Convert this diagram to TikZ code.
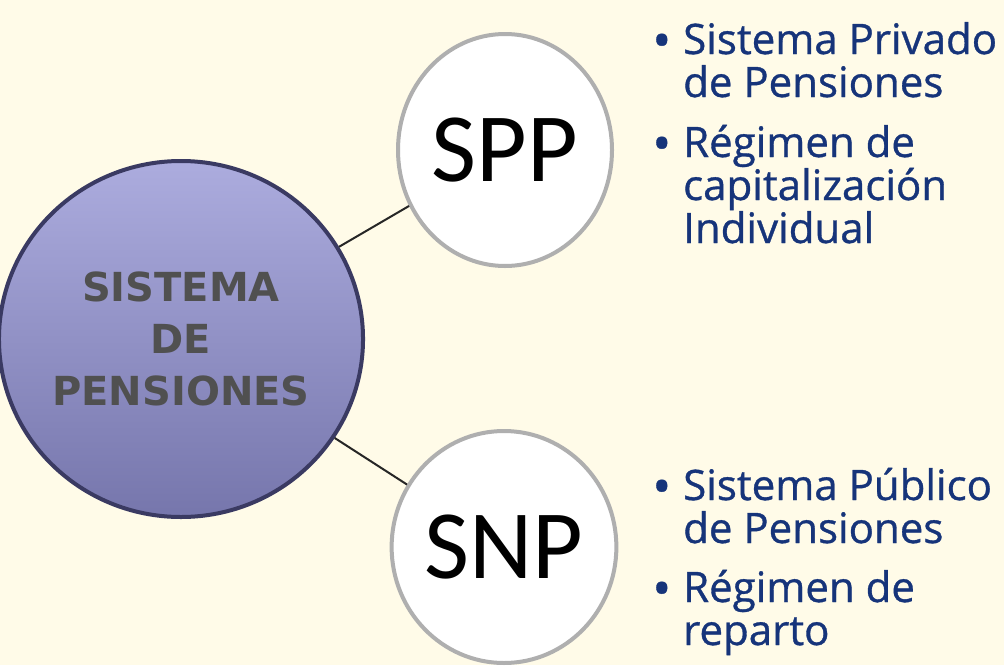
\documentclass[tikz,border=0pt]{standalone}
\usepackage{fontspec}
\setmainfont{Open Sans}
\newfontfamily\itemfont{Open Sans}[FakeBold=0.8]
\newfontfamily\headfont{DejaVu Sans}
\newfontfamily\acrofont{Carlito}
\usetikzlibrary{shapes.geometric}

\definecolor{paper}{RGB}{255,251,232}
\definecolor{balltop}{RGB}{172,172,222}
\definecolor{ballbot}{RGB}{118,118,172}
\definecolor{ballrim}{RGB}{58,58,98}
\definecolor{headgray}{RGB}{80,80,80}
\definecolor{itemblue}{RGB}{22,52,122}
\definecolor{rimgray}{RGB}{175,175,175}

\newcommand{\itemdot}{\llap{\raisebox{-4pt}{\fontsize{50}{43}\selectfont •}\hspace{12pt}}}

\tikzset{
  bigball/.style={ellipse, minimum width=336pt, minimum height=356pt, inner sep=0pt,
    top color=balltop, bottom color=ballbot, draw=ballrim, line width=4pt,
    text=headgray, align=center, font=\headfont\bfseries\fontsize{40}{52}\selectfont},
  smallball/.style={ellipse, minimum width=214pt, minimum height=232pt, inner sep=0pt,
    fill=white, draw=rimgray, line width=4pt, font=\acrofont\fontsize{98}{98}\selectfont},
  itemtext/.style={anchor=base west, align=left, inner sep=0pt, text=itemblue,
    font=\itemfont\fontsize{42}{43}\selectfont},
  link/.style={draw=black!85, line width=2pt},
}

\begin{document}
\begin{tikzpicture}[x=1pt,y=-1pt]
\useasboundingbox (0,0) rectangle (1004,665);
\fill[paper] (0,0) rectangle (1004,665);

% circles
\node[bigball] (pens) at (181,339) {SISTEMA\\DE\\PENSIONES};
\node[smallball] (spp) at (505,150) {SPP};
\node[smallball] (snp) at (504,547) {SNP};

\draw[link] (pens) -- (spp);
\draw[link] (pens) -- (snp);

% bullet lists (base = last line)
\node[itemtext] (spp1) at (683,97) {\itemdot Sistema Privado\\de Pensiones};
\node[itemtext] (spp2) at (683,243) {\itemdot Régimen de\\capitalización\\Individual};
\node[itemtext] (snp1) at (683,543) {\itemdot Sistema Público\\de Pensiones};
\node[itemtext] (snp2) at (683,645) {\itemdot Régimen de\\reparto};
\end{tikzpicture}
\end{document}
